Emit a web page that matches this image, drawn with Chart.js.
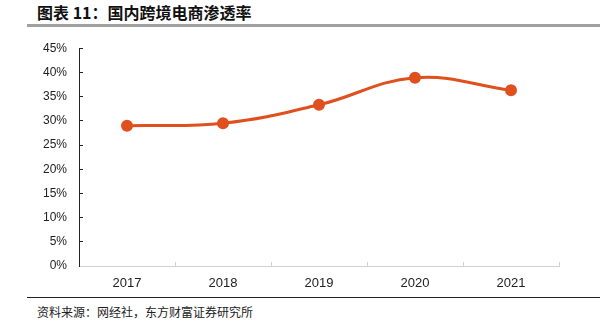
<!DOCTYPE html>
<html>
<head>
<meta charset="utf-8">
<script src="https://cdn.jsdelivr.net/npm/chart.js@4"></script>
<style>
  html, body { margin: 0; padding: 0; background: #fff; }
  body { width: 613px; height: 331px; position: relative; overflow: hidden; font-family: "Noto Sans CJK SC", sans-serif; }
  #title { position: absolute; left: 37px; top: 2px; font-size: 16px; font-weight: bold; color: #111; line-height: 20px; }
  #rule1 { position: absolute; left: 27px; top: 24px; width: 573px; height: 3px; background: #a0a0a0; }
  #rule2 { position: absolute; left: 27px; top: 297px; width: 573px; height: 1px; background: #222; }
  #source { position: absolute; left: 37px; top: 304px; font-size: 12px; color: #222; line-height: 16px; }
  #wrap { position: absolute; left: 0; top: 25px; width: 613px; height: 270px; }
</style>
</head>
<body>
<div id="title">图表 11：国内跨境电商渗透率</div>
<div id="rule1"></div>
<div id="wrap"><canvas id="myChart"></canvas></div>
<div id="rule2"></div>
<div id="source">资料来源：网经社，东方财富证券研究所</div>
<script>
const years = ['2017', '2018', '2019', '2020', '2021'];
const penetration = [29.0, 29.5, 33.3, 38.9, 36.3];
const yTicks = [0, 5, 10, 15, 20, 25, 30, 35, 40, 45];

function lineChart() {
  const ctx = document.getElementById('myChart');
  new Chart(ctx, {
    type: 'line',
    data: {
      labels: years,
      datasets: [{
        label: '国内跨境电商渗透率',
        data: penetration,
        borderColor: '#E0501E',
        backgroundColor: '#E0501E',
        borderWidth: 3,
        pointRadius: 4.5,
        pointHoverRadius: 4.5,
        tension: 0.4
      }]
    },
    options: {
      responsive: true,
      maintainAspectRatio: false,
      animation: false,
      layout: { padding: { top: 19, right: 54, bottom: 0, left: 0 } },
      plugins: {
        legend: { display: false },
        tooltip: { enabled: false }
      },
      scales: {
        x: {
          offset: true,
          grid: {
            offset: true,
            drawOnChartArea: false,
            tickLength: -4,
            color: '#d0d0d0'
          },
          border: { color: '#d0d0d0', width: 1 },
          ticks: {
            padding: 14,
            color: '#222',
            font: { family: 'Arial, "Liberation Sans"', size: 13 }
          },
          afterFit: scale => { scale.height = 29; }
        },
        y: {
          min: 0,
          max: 45,
          afterBuildTicks: scale => { scale.ticks = yTicks.map(v => ({ value: v })); },
          grid: {
            drawOnChartArea: false,
            tickLength: -4,
            color: '#222'
          },
          border: { color: '#222', width: 1 },
          ticks: {
            padding: 16,
            color: '#222',
            font: { family: 'Arial, "Liberation Sans"', size: 12 },
            callback: v => v + '%'
          },
          afterFit: scale => { scale.width = 79; }
        }
      }
    }
  });
}

lineChart();
</script>
</body>
</html>
